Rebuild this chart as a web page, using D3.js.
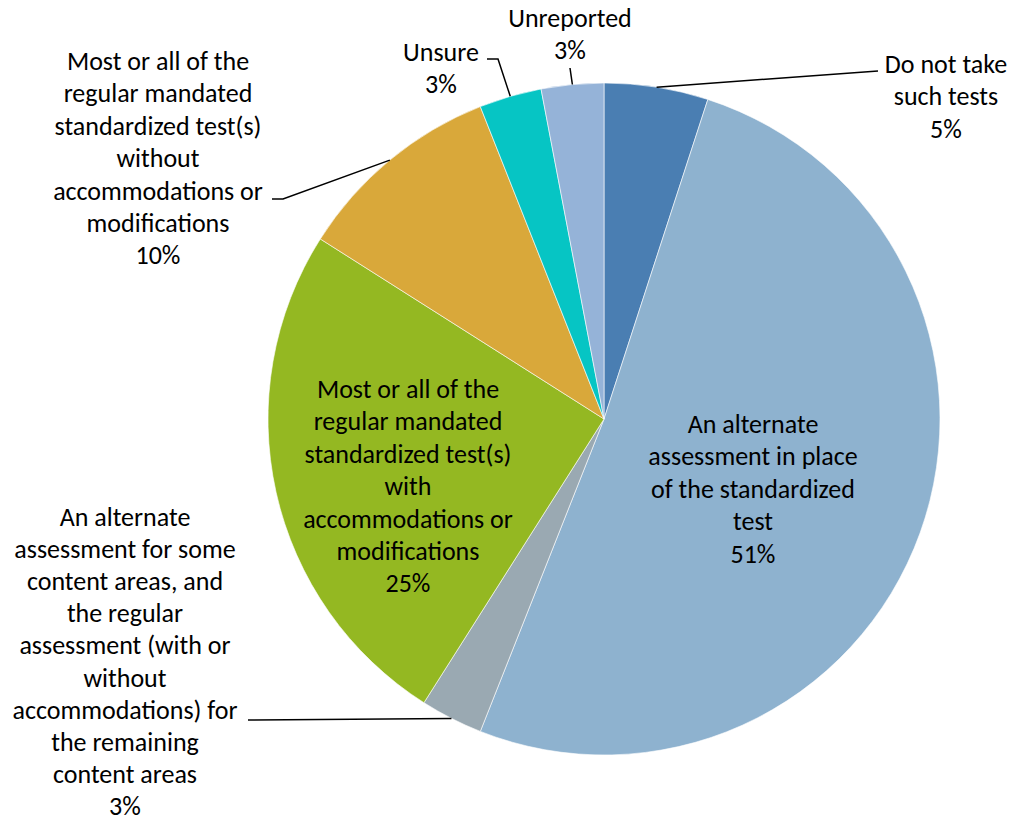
<!DOCTYPE html>
<html>
<head>
<meta charset="utf-8">
<script src="https://cdn.jsdelivr.net/npm/d3@7"></script>
<style>
  html, body { margin: 0; padding: 0; background: #fff; }
  svg text { font-family: Carlito, Calibri, Lato, "Open Sans", sans-serif; fill: #000; }
</style>
</head>
<body>
<svg id="chart" width="1011" height="822"></svg>
<script>
// Test participation categories, clockwise from 12 o'clock
const categories = [
  "Do not take such tests",
  "An alternate assessment in place of the standardized test",
  "An alternate assessment for some content areas, and the regular assessment (with or without accommodations) for the remaining content areas",
  "Most or all of the regular mandated standardized test(s) with accommodations or modifications",
  "Most or all of the regular mandated standardized test(s) without accommodations or modifications",
  "Unsure",
  "Unreported"
];
const values = [5, 51, 3, 25, 10, 3, 3];
const colors = ["#4A7EB2", "#8EB2CF", "#9AA9B2", "#94B822", "#D9A83A", "#06C5C4", "#95B3D8"];

// Wrapped label lines for each category (percent appended when drawn)
const labelLines = [
  ["Do not take", "such tests"],
  ["An alternate", "assessment in place", "of the standardized", "test"],
  ["An alternate", "assessment for some", "content areas, and", "the regular", "assessment (with or", "without", "accommodations) for", "the remaining", "content areas"],
  ["Most or all of the", "regular mandated", "standardized test(s)", "with", "accommodations or", "modifications"],
  ["Most or all of the", "regular mandated", "standardized test(s)", "without", "accommodations or", "modifications"],
  ["Unsure"],
  ["Unreported"]
];

// Layout: label block centre x, first baseline y, line step, and leader-line elbow points
const labelLayout = [
  { x: 946, y: 73, step: 32.4, leader: [[878, 71]] },
  { x: 753, y: 433, step: 32.4, leader: null },
  { x: 125, y: 526, step: 32.1, leader: [[248, 720]] },
  { x: 408, y: 398, step: 32.4, leader: null },
  { x: 158, y: 70, step: 32.4, leader: [[283, 199], [272, 199]] },
  { x: 441, y: 61, step: 32.4, leader: [[498, 59], [487, 59]] },
  { x: 570, y: 27, step: 32.4, leader: [[570, 68]] }
];

const cx = 604, cy = 419, radius = 336, fontSize = 26;

const svg = d3.select("#chart");
const g = svg.append("g").attr("transform", `translate(${cx},${cy})`);

const data = categories.map((c, i) => ({ name: c, value: values[i], color: colors[i], lines: labelLines[i], layout: labelLayout[i] }));

const pie = d3.pie().value(d => d.value).sort(null);
const arc = d3.arc().innerRadius(0).outerRadius(radius);
const arcs = pie(data);

g.selectAll("path.slice")
  .data(arcs)
  .enter().append("path")
  .attr("class", "slice")
  .attr("d", arc)
  .attr("fill", d => d.data.color)
  .attr("stroke", "#fff")
  .attr("stroke-width", 0.6);

// Leader lines from the slice's outer edge at its mid-angle to the label
arcs.forEach(a => {
  const L = a.data.layout;
  if (!L.leader) return;
  const mid = (a.startAngle + a.endAngle) / 2;
  const start = [cx + radius * Math.sin(mid), cy - radius * Math.cos(mid)];
  const pts = [start].concat(L.leader);
  svg.append("path")
    .attr("d", d3.line()(pts))
    .attr("fill", "none")
    .attr("stroke", "#000")
    .attr("stroke-width", 1.5);
});

// Labels
data.forEach(d => {
  const L = d.layout;
  const lines = d.lines.concat([d.value + "%"]);
  const t = svg.append("text")
    .attr("text-anchor", "middle")
    .attr("font-size", fontSize);
  lines.forEach((ln, j) => {
    t.append("tspan")
      .attr("x", L.x)
      .attr("y", L.y + j * L.step)
      .text(ln);
  });
});
</script>
</body>
</html>
